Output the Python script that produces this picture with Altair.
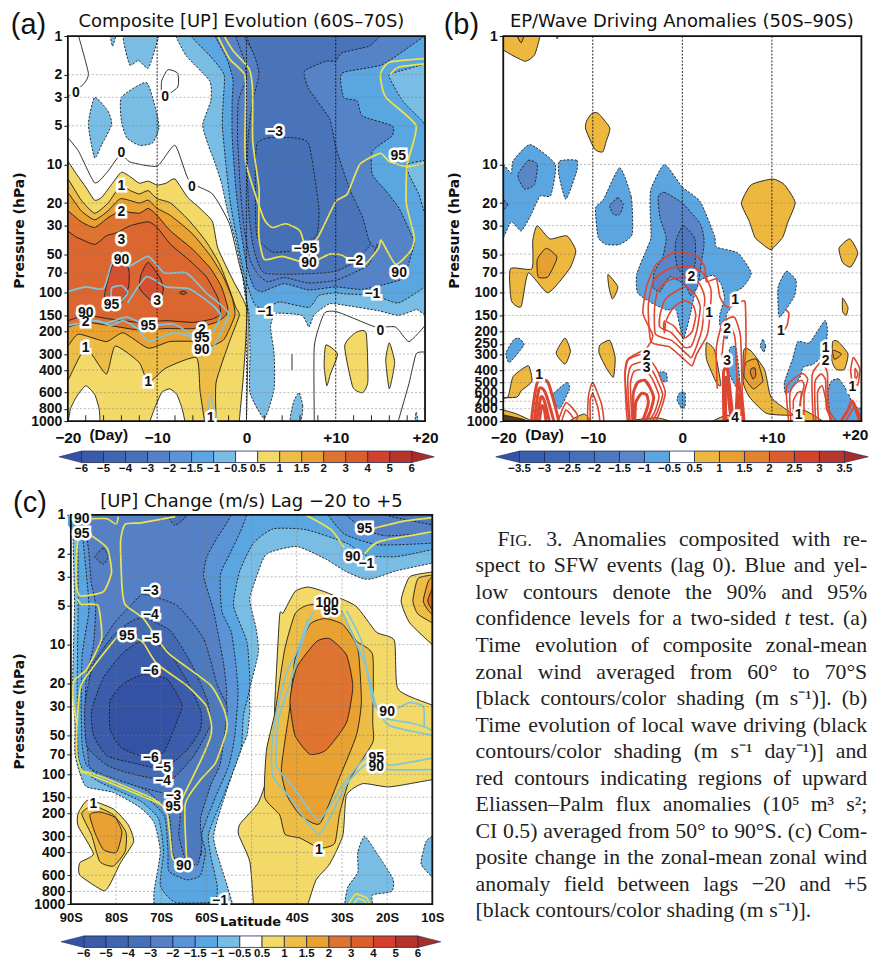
import altair as alt
import pandas as pd

# ------------------------------ colours ------------------------------
LEVEL_COLORS = ["#3552A5", "#3B5AA9", "#4066B0", "#4571B6", "#5580C6", "#5A94D6", "#5AA6E0", "#79BDE4", "#FFFFFF",
                "#F2D968", "#EDBD45", "#E9A131", "#DF7430", "#DB5F2D", "#D4412B", "#B5352A", "#A82C27"]
B_COLORS = ["#3552A5", "#3C5FAD", "#4167B2", "#4570B7", "#4D79BE", "#5A85C8", "#5BA6E0", "#FFFFFF",
            "#EEB83E", "#E8A030", "#E4832E", "#DC5C2C", "#D4432A", "#B8372A", "#A82C27"]
AC_TICKS = ["−6", "−5", "−4", "−3", "−2", "−1.5", "−1", "−0.5", "0.5", "1", "1.5", "2", "3", "4", "5", "6"]
B_TICKS = ["−3.5", "−3", "−2.5", "−2", "−1.5", "−1", "−0.5", "0.5", "1", "1.5", "2", "2.5", "3", "3.5"]
P_AC = [1, 2, 3, 5, 10, 20, 30, 50, 70, 100, 150, 200, 300, 400, 600, 800, 1000]
P_B = [1, 10, 20, 30, 50, 70, 100, 150, 200, 250, 300, 400, 500, 600, 700, 800, 1000]
LAT_LABELS = [-90, -80, -70, -60, -40, -30, -20, -10]
LAT_GRID = [-80, -70, -60, -50, -40, -30, -20]
DAY_LABELS = [-20, -10, 0, 10, 20]
DAY_LABELS_B = [-20, -10, 0, 10]
DAY_TICKS = [-18, -16, -14, -12, -8, -6, -4, -2, 2, 4, 6, 8, 12, 14, 16, 18]

# ------------------------------ panel (a): day, hPa ------------------------------
A_NEG05 = [(-7.9,0.8),(-7.9,1),(-6.7,1.44),(-4.1,2.25),(-4,3.2),(-4.9,4.9),(-4.3,7),(-3.6,9.4),(-2.8,14),(-2,25),(-1.2,40),(-0.5,70),(-0.1,110),(0.3,150),(0.4,300),(0.4,600),(2,950),(3.1,560),(3.1,300),(2.7,185),(3.3,145),(6.2,150),(7,185),(7.6,148),(9.3,122),(11,125),(14.8,138),(17,150),(19,135),(21,118),(21,0.8)]
A_NEG10 = [(-6.2,0.8),(-6.2,1),(-4,1.45),(-2.5,2),(-2.6,3.2),(-2.7,5),(-2.3,10),(-1.8,20),(-1,40),(-0.3,70),(0.6,110),(1,125),(2,135),(3.7,118),(7,130),(8.1,105),(10,100),(11,102),(14.4,105),(17,120),(20,90),(21,80),(21,0.8)]
A_HOLE1 = [(21,1.55),(20,1.65),(16.3,1.95),(16,2.1),(17.5,3.2),(19.7,4.6),(20,5),(21,5.2)]
A_HOLE2 = [(21,9.5),(20,9.3),(18,10),(18.2,12),(19.3,17),(20,24),(21,25)]
A_NEG15 = [(-3.5,0.8),(-3.5,1),(-2.2,1.5),(-1.5,2.2),(-1.6,3.2),(-1.6,6),(-1.2,15),(-0.7,30),(0,60),(0.8,90),(1.8,98),(4.2,85),(7,95),(10,90),(13,94),(17.1,80),(17.8,70),(18.8,42),(18.6,37),(17.1,22),(15.6,16),(14.1,12),(14.1,7.9),(16.3,6),(16.3,5),(13,4.2),(12.4,3.2),(10.9,3),(10.7,1.95),(15.2,1.67),(19.7,1.03),(21,0.9),(21,0.8)]
A_NEG20 = [(-1.2,0.8),(-1.2,1),(-0.3,1.5),(0,2.1),(-0.9,3.2),(-1,6),(-0.7,15),(-0.3,30),(0.4,55),(1.3,72),(2.4,82),(4.2,76),(7,84),(10,80),(12,70),(13.7,60),(14.6,42),(13.7,39)]
A_NEG25 = [(0,0.8),(0,1),(1,1.5),(1.4,2),(0.7,3.2),(0.2,6),(0.1,12),(0.3,25),(0.8,45),(2,70),(7,71),(10,68),(12.2,57),(13.9,42),(13.7,39),(13,25.7),(11.5,15.2),(10,7.3),(9.3,4.4),(7,2.6),(6.5,1.88),(8.9,1.57),(10,1.57),(10.7,1.35),(13.7,1.2),(14.9,1),(15,0.8)]
A_NEG30 = [(1.2,6.8),(2.5,6.2),(5.2,6.2),(7,7),(8.1,21.6),(7.9,35),(6.6,42),(5.1,47),(2.9,48),(1.2,37),(1,20),(1,10)]
A_BLUE_B1 = [(-15.3,0.9),(-15,1.2),(-14.5,0.9)]
A_BLUE_B2 = [(-13.8,0.9),(-13.1,1.67),(-12.1,1.55),(-11,1.78),(-10.1,1.17),(-9.9,0.9)]
A_BLUE_B3 = [(-17,3),(-15.5,3.85),(-15.1,4.9),(-16.2,7),(-17,8.9),(-17.7,4.9)]
A_BLUE_B4 = [(-14,3),(-11.2,2.3),(-10.1,3.85),(-9.8,5.2),(-10.5,6.8),(-12,7.1),(-13.4,6.2),(-14,4.6)]
A_BLUE_B5 = [(5.9,600),(6.3,760),(6.1,980),(4.9,980),(5.3,700)]
A_BLUE_B6 = [(19,850),(19.2,980),(18.9,980)]
A_POS05 = [(-21,9),(-20,9.5),(-19,12),(-18,15),(-17,19),(-16.2,18),(-15,14),(-14,11.5),(-13,12.5),(-12,14),(-11,13.5),(-10,14.5),(-9,14),(-8,13),(-6.6,18),(-5.2,22),(-3.8,28),(-3.2,45),(-1.5,80),(0,130),(-0.1,250),(-0.4,500),(-0.8,1000),(-0.8,1150),(-21,1150)]
A_WHITE1 = [(-21,1100),(-20,1000),(-19.7,800),(-19,640),(-18,530),(-17,620),(-16.5,800),(-16.4,1000),(-16.4,1100)]
A_WHITE2 = [(-10.9,1100),(-10.8,1000),(-10.3,800),(-9.5,600),(-8.6,560),(-7.8,620),(-7.2,800),(-6.9,1000),(-6.9,1100)]
A_POS10 = [(-21,12.5),(-20,13),(-18.5,19),(-17,24),(-15.5,20),(-14.1,14.7),(-13,16),(-12,17),(-11,16),(-10,18.5),(-8.5,20),(-6.5,27),(-4.5,40),(-3,60),(-2,90),(-1.2,130),(-0.8,150),(-1.9,240),(-3.4,500),(-3.4,1000),(-3.4,1100),(-4.7,1100),(-4.7,1000),(-5.2,580),(-5.6,320),(-9,385),(-11,500),(-12,350),(-14.7,260),(-15.7,430),(-18,270),(-20,480),(-21,550)]
A_POS15 = [(-21,16),(-20,16.6),(-18.5,23),(-17,27),(-15.5,23),(-14.1,18.5),(-12,20),(-11,19),(-10,22),(-8.5,25),(-6,35),(-4,52),(-2.6,75),(-1.6,110),(-1.3,150),(-2.5,230),(-4,260),(-5.6,240),(-8.6,240),(-11,270),(-13.8,205),(-15.7,240),(-18.8,210),(-20,260),(-21,290)]
A_POS20 = [(-21,22),(-20,23),(-18.5,28),(-17,31),(-15.5,26),(-14.1,23.3),(-12,24),(-11,22),(-10,25),(-8.5,33),(-6,46),(-4,65),(-2.8,90),(-2.1,130),(-2.3,150),(-3.4,170),(-6,190),(-9,190),(-12,195),(-15.3,180),(-18,170),(-20,185),(-21,190)]
A_POS30 = [(-21,33),(-19,37),(-17,42),(-15.7,36),(-14.5,34),(-13,30),(-11,28),(-10,31),(-8.5,42),(-6.5,55),(-4.5,75),(-3.2,110),(-2.9,145),(-3.8,160),(-6,170),(-9,165),(-12,170),(-15.3,160),(-18,150),(-20,165),(-21,170)]
A_POS40A = [(-15.9,105),(-15.3,70),(-14.5,52),(-13.2,65),(-13.2,90),(-14,120),(-15.3,125)]
A_POS40B = [(-12,90),(-11.8,72),(-11,58),(-9.7,76),(-9.3,95),(-10,125),(-11.6,100)]
A_POS40C = [(-7.5,100),(-7.1,97),(-6.7,100),(-7.1,103)]
A_YEL1 = [(8.9,255),(10.2,300),(9.4,430),(9,530),(8.7,370)]
A_YEL2 = [(12.2,205),(13.4,205),(13.6,490),(13,600),(11.9,540),(11,260)]
A_YEL3 = [(16,245),(16.6,350),(16,560),(15.6,335)]
A_ZERO1 = [(-18.8,1),(-17.7,1.95),(-18.2,2.35),(-19.3,2.7),(-20,3)]
A_ZERO2 = [(-20,6.2),(-18.8,7.9),(-17,13.9),(-15.6,11.5),(-14.1,8.4),(-13,9.6),(-10,10.3),(-8,7.1),(-6.4,13.5),(-3.8,17),(-1.9,29),(-0.8,60),(-0.2,85),(0.1,130),(0.2,170),(0.1,500),(0,1000)]
A_ZERO3 = [(-9.5,2.25),(-8.8,1.83),(-7.7,1.95),(-7.7,2.5),(-9.4,3)]
A_ZERO4 = [(7.6,1000),(7.6,260),(8.7,145),(10,140),(11.9,157),(14.5,185),(16.7,185),(18.2,240),(20,180)]
A_ZERO5 = [(20,290),(19,300),(18.2,510),(17,1000)]
A_ZERO6 = [(5.1,300),(5.1,400)]
A_B90A = [(-20,98),(-18,90),(-16,93),(-15,58),(-13.1,62),(-11,52),(-9.2,70),(-6.7,70),(-4.5,100),(-2,145),(-3.4,240),(-4,280)]
A_B90B = [(-20,180),(-16.8,165),(-15.2,180),(-13.8,165),(-12,195),(-11,240),(-8.2,205),(-5.6,225)]
A_B95A = [(-15.1,125),(-15.1,92),(-14,88),(-13.3,100),(-14.4,125)]
A_B95B = [(-13.3,120),(-11.2,75),(-9,90),(-6.4,93),(-3.8,125),(-2.9,150),(-3.6,195),(-4.2,215)]
A_B95C = [(-17.8,160),(-15.7,172),(-13.4,155),(-11,180),(-8.2,175),(-6,215)]
A_B95D = [(-4.5,1000),(-4,640),(-3.3,1000)]
A_Y95A = [(-3.2,1),(-1.9,1.5),(-0.2,2),(-0.1,3.2),(-0.1,9.4),(1.9,26),(2.9,31),(4.4,29),(6,33),(6.6,46)]
A_Y95B = [(6.6,46),(8,37),(10,19.5),(11.3,17),(12.7,10),(15,8.2),(16,9.5),(18,10.4),(20,9.7)]
A_Y90A = [(-2.5,1),(-1.5,1.3),(0.3,1.8),(0.7,2.7),(0.7,6.6),(1.4,15),(1.4,22),(1.4,37),(2,55),(4,52),(7,59),(9.3,50),(10.7,51),(13,62),(14.8,45),(15.1,39),(16.7,60),(18.4,47),(18.8,37),(17.9,20),(18,10),(19,5),(15.6,3),(15,2),(16,1.6),(20,1.5)]
A_Y90B = [(16.1,2),(17,1.75),(20,1.65)]
A_LABELS = [("0",-19.1,2.8),("0",-9.1,3),("0",-14,8.2),("0",-6.1,15),("0",15,200),("1",-14,14.7),("2",-14,23.3),("3",-14,39),("90",-14,56),("3",-10,115),("95",-15.1,125),("90",-18,145),("2",-18,170),("95",-11,180),("2",-5,195),("95",-5,225),("90",-5,280),("1",-18,270),("1",-11,500),("1",-4,950),("−3",3.2,5.6),("−95",6.6,46),("90",7,59),("−2",12.2,57),("90",17.1,70),("95",17,8.6),("−1",14.1,102),("−1",2.1,140)]

# ------------------------------ panel (b): day, hPa ------------------------------
B_Y1 = [(-21,1),(-20,1.28),(-17.6,1.57),(-16.5,1.4),(-15.9,1),(-15.9,0.8),(-21,0.8)]
B_Y1I = [(-18.7,0.9),(-18,1.13),(-17.6,0.9)]
B_Y2 = [(-14,0.9),(-14,1.05),(-13.5,0.9)]
B_Y3 = [(-10.1,4),(-9.4,4),(-8.1,5.2),(-8.5,6.6),(-8.9,8),(-9.8,7.6),(-10.8,5.3),(-10.7,4.6)]
B_Y4 = [(6.6,20),(7.7,14.4),(10.1,13),(11.4,14.4),(12.6,19.8),(11.8,28),(11.2,37),(9.9,46),(8.8,41),(8.1,37),(7.5,28)]
B_Y5 = [(-16.2,30),(-14.8,38),(-12.9,36),(-11.9,47),(-12.6,65),(-15,100),(-17.2,70),(-18,128),(-19.1,115),(-19.2,65),(-16.8,65),(-16.7,39)]
B_Y5I = [(-16.2,55),(-15.2,45),(-14,53),(-15,75),(-16.1,75)]
B_Y6 = [(-8.3,72),(-7.2,90),(-7.8,112),(-8.2,90)]
B_Y7 = [(-13.1,225),(-12.5,285),(-13.1,360),(-14.1,295)]
B_Y8 = [(-9.2,255),(-8.1,235),(-7.5,320),(-7.7,455),(-8.5,385),(-9.3,295)]
B_Y9 = [(-21,650),(-19.5,650),(-18.9,450),(-17.2,370),(-16.8,490),(-18,580),(-18.5,650),(-21,660)]
B_Y10 = [(17.5,45),(18.7,38),(19.6,49),(18.8,63),(17.9,58)]
B_Y11 = [(17.9,110),(18.5,130),(18.3,150),(17.9,140)]
B_Y12 = [(16.8,240),(17.4,240),(18.5,300),(18.1,395),(17.2,395),(16.7,340)]
B_Y12I = [(16.8,280),(17.8,300),(17,330)]
B_Y13 = [(2.7,245),(3.6,280),(4.3,520),(3.8,500),(2.7,330)]
B_Y14 = [(7,270),(7.7,285),(9.2,400),(9.9,650),(12,850),(12.3,900),(9.4,870),(7.5,650),(6.8,500),(6.8,300)]
B_Y14I = [(7.1,350),(8.3,330),(9,480),(8.6,520),(7.9,560),(6.9,450)]
B_Y14J = [(7.7,390),(8.1,385),(8.2,440),(7.9,470),(7.6,420)]
B_Y15 = [(-12.6,1000),(-11,880),(-10.3,980),(-11,1050)]
B_Y16 = [(12.7,1050),(13.5,820),(16,1050)]
B_Y17 = [(-21,800),(-18.5,880),(-16.5,1050),(-21,1100)]
B_Y18 = [(-8,1050),(-3,940),(-1,1050)]
B_Y19 = [(3,1050),(5,900),(7,1050)]
B_DK1 = [(-21,880),(-18,960),(-16,1100),(-21,1100)]
B_DK2 = [(3.5,1100),(5,970),(6.5,1100)]
B_DK3 = [(-7,1100),(-3,990),(-1,1100)]
B_L1 = [(-21,10),(-20,10),(-19.1,11.7),(-18.9,9.4),(-17,7),(-14.2,10),(-14.7,17.5),(-15.9,17.7),(-17,25.5),(-18,33),(-19.1,28),(-20,37),(-21,40)]
B_L1I = [(-18.3,11.7),(-17.2,9.3),(-16.2,10),(-16.5,14.3),(-17.6,15.6),(-18.3,13)]
B_L1J = [(-20.5,18),(-19.5,20.5),(-20.5,24.5)]
B_L2 = [(-13.7,9.4),(-11.8,9.3),(-11.8,11.3),(-13,18.7),(-13.8,12)]
B_L3 = [(-7,10.6),(-5.7,18),(-5.6,35),(-7,42),(-8.5,42),(-9.4,37),(-9.7,22),(-8.8,18.7)]
B_L3I = [(-8.1,21),(-7.2,18.2),(-6.6,20.5),(-7,24.5),(-7.7,24.5)]
B_L4 = [(-2,10),(0,15),(2,19.5),(3.6,36),(3.8,44),(6.2,49),(7.7,70),(6.8,90),(5.7,101),(5.5,128),(4.9,148),(5.2,200),(4.9,230),(4.2,180),(4.2,146),(4.7,110),(4.3,85),(3.4,73),(1.9,81),(1.4,100),(1,136),(0.1,230),(-0.7,136),(-1.8,136),(-3.6,118),(-5,100),(-5.1,72),(-4,46),(-3.5,37),(-3.6,22),(-3.5,15.5)]
B_L4I = [(-2.7,18),(-2,16.5),(0,20),(2,29),(2.4,37),(2.4,44),(2.1,59),(1.7,90),(0.9,105),(0.4,88),(-1.4,75),(-2.5,98),(-3.3,90),(-3.1,68),(-2.2,53),(-1.8,37),(-2.5,26)]
B_L4J = [(-0.7,39),(0.1,30),(1.4,38),(1.4,60),(0.6,75),(-0.5,65),(-0.8,50)]
B_L5 = [(10.7,90),(11.6,68),(12.7,80),(12.5,107),(10.9,155),(10.7,128)]
B_L6 = [(-18.9,235),(-18.3,225),(-17.7,255),(-19.3,350),(-19.7,295)]
B_L7 = [(-14.4,610),(-12.9,500),(-12.6,560),(-13.7,800),(-14.4,680)]
B_L8 = [(-2.5,415),(-1.8,420),(-1.7,490),(-2.4,480)]
B_L9 = [(-0.3,600),(0.3,600),(0.3,770),(-0.1,790),(-0.6,680)]
B_L10 = [(5.3,270),(6,270),(6.4,480),(6,540),(5.1,400)]
B_L11 = [(9,230),(9.3,260),(9.1,290),(8.7,260)]
B_L13 = [(12.9,240),(14.2,245),(15.9,165),(16.2,195),(15.9,295),(14.6,360),(13.5,380),(13.1,460),(11.6,620),(11.4,500),(12.3,330)]
B_L14 = [(16.6,490),(17.5,470),(18.5,600),(19.2,770),(21,830),(21,1100),(16.8,1100),(16.3,600)]
B_R1 = [(-3.8,125),(-3.2,80),(-1.5,65),(0.8,62),(2.3,70),(3.2,95),(3,170),(2.7,220),(1.6,300),(1.1,370),(0.4,340),(-1.4,265),(-3.5,240)]
B_R2 = [(-3.1,130),(-2.7,95),(-1.5,80),(0.5,75),(1.9,85),(2.5,110),(2.2,190),(1.6,260),(1,320),(0.4,295),(-1.2,235),(-3,210)]
B_R3 = [(-2.5,150),(-2,115),(-1,100),(0.4,90),(1.5,105),(2,130),(1.6,200),(1,260),(0.2,265),(-1.2,205),(-2.5,185)]
B_R4 = [(-1.8,165),(-1,130),(0.2,115),(1.2,125),(1.5,150),(1.1,200),(0.2,225),(-1,180)]
B_R5 = [(-2,165),(-1.9,180),(-2,205),(-2.1,180)]
B_R6 = [(-5.9,1100),(-6.4,450),(-6.1,330),(-4,270),(-3.3,215),(-4.4,145),(-4,90),(-2.9,60),(-0.7,48),(1.6,52),(2.5,63),(2.7,82),(3.8,78),(4.2,108),(4.9,128),(5.9,125),(7,118),(7.1,270),(6.8,420)]
B_S1 = [(-16.8,1100),(-16.2,500),(-15,500),(-13.8,1100)]
B_S2 = [(-16.5,1100),(-16,560),(-15.3,600),(-14.3,1100)]
B_S3 = [(-16.3,1100),(-15.8,650),(-15.4,700),(-14.8,1100)]
B_S4 = [(-16,1100),(-15.7,760),(-15.4,820),(-15.2,1100)]
B_S5 = [(-14,1100),(-13,720),(-11.7,900),(-12.2,1100)]
B_S6 = [(-13.6,1100),(-13,820),(-12.2,950),(-12.6,1100)]
B_S7 = [(-10.5,1100),(-10.5,650),(-10,500),(-9,750),(-8.8,1100)]
B_S8 = [(-10.2,1100),(-10.3,700),(-10,610),(-9.4,800),(-9.2,1100)]
B_T1 = [(-6,1100),(-6.4,450),(-6,330),(-4.2,300),(-3,380),(-2.5,450),(-1.9,600),(-2.5,850),(-3.5,1100)]
B_T2 = [(-5.7,1100),(-6.1,480),(-5.7,370),(-4.3,345),(-3.3,410),(-2.8,480),(-2.2,620),(-2.8,850),(-3.8,1100)]
B_T3 = [(-5.5,1100),(-5.8,520),(-5.4,410),(-4.3,395),(-3.6,440),(-3.1,510),(-2.6,640),(-3.1,850),(-4.2,1100)]
B_T4 = [(-5.4,1100),(-5.5,620),(-5,500),(-4.2,480),(-3.6,550),(-3.2,660),(-3.6,850),(-4.5,1100)]
B_T5 = [(-5.3,1100),(-5.2,720),(-4.6,610),(-4,620),(-3.8,720),(-4.2,900),(-4.8,1100)]
B_U1 = [(3.9,560),(3.8,270),(4.5,170),(5.8,155),(6.5,220),(6.7,600),(7,1100),(6.4,1100),(6.1,500),(5.9,230),(5.4,185),(4.7,210),(4.4,330)]
B_U2 = [(4.7,1100),(4.6,420),(5,390),(5.3,560),(5.7,1100)]
B_U3 = [(4.9,1100),(4.8,480),(5.05,470),(5.2,700),(5.5,1100)]
B_U4 = [(6,1100),(6.2,480),(6.5,600),(6.8,1100)]
B_U5 = [(6.2,1100),(6.3,620),(6.6,1100)]
B_V1 = [(12,1100),(11.6,560),(12.2,480),(13.4,425),(14,470),(13.6,620),(13.5,1100)]
B_V2 = [(12.2,1100),(12,620),(12.5,520),(13.3,480),(13.6,530),(13.2,700),(13.2,1100)]
B_V3 = [(12.5,1100),(12.4,700),(12.9,600),(13.3,600),(13,850)]
B_W1 = [(14.8,1100),(14.5,440),(15.5,350),(16.2,420),(16.3,800),(17.5,1100)]
B_W2 = [(15,1100),(14.8,500),(15.5,430),(16,480),(16.1,800),(17,1100)]
B_W3 = [(15.3,1100),(15.1,600),(15.6,530),(15.9,620),(16.6,1100)]
B_W4 = [(17.5,1100),(18.5,820),(19,700),(20,1000),(20,1100)]
B_W5 = [(18,1100),(18.8,860),(19.2,790),(19.8,1100)]
B_X1 = [(19.1,320),(19.8,390),(19.6,520),(19,500),(18.8,400)]
B_X2 = [(19.3,390),(19.6,430),(19.3,480)]
B_X3 = [(11.5,135),(11.9,145),(11.7,180),(11.2,200),(11,200)]
B_LABELS = [("1",-16,440),("2",-4,310),("3",-4,385),("2",1,75),("1",5.9,113),("1",3,145),("2",5,190),("3",5,340),("4",5.9,940),("1",11,200),("1",16,270),("2",16,340),("1",19,540),("1",13,900)]

# ------------------------------ panel (c): latitude, hPa ------------------------------
C_NEG05 = [(-91,0.8),(-89.3,1.03),(-89.5,1.5),(-89.2,5),(-89.6,20),(-89.1,40),(-89.1,70),(-88,98),(-86.5,125),(-80.6,138),(-74.7,180),(-71.6,235),(-70.2,395),(-71.6,800),(-71.6,1000),(-71.6,1100),(-54.3,1100),(-54.3,980),(-55.4,720),(-58.4,310),(-56,150),(-52.4,65),(-51,50),(-50.4,33),(-50.4,22),(-48.5,11.5),(-49,7.5),(-50.4,4.5),(-48.9,3),(-46.7,2),(-40,1.75),(-33.5,2.2),(-29.4,2.7),(-25.4,3.1),(-23.2,3.1),(-18,2.7),(-10,2.35),(-9,2.3),(-9,0.8)]
C_NEG10 = [(-90,0.8),(-88.5,1.5),(-88.4,5.5),(-88.6,20),(-88.4,70),(-87.3,92),(-83.6,115),(-74.7,160),(-70.6,220),(-69.5,395),(-70.2,720),(-66.9,970),(-58.4,960),(-57.6,730),(-59,430),(-59.5,285),(-56,140),(-52.4,65),(-51.8,35),(-50.4,21),(-51,9.6),(-54,5),(-52.6,2.7),(-49.6,1.65),(-45.2,1.28),(-37.9,1.3),(-29,1.65),(-24.6,2.05),(-18,2.1),(-10,1.85),(-9,1.8),(-9,0.8)]
C_NEG15A = [(-88.5,0.8),(-88,1.02),(-87.3,1.6),(-86.5,3),(-86,5.5),(-87.5,12),(-87.7,30),(-87.5,60),(-86.5,85),(-83,105),(-74,145),(-69.3,210),(-68.5,395),(-68.3,560),(-64.3,650),(-61.3,600),(-60.2,395),(-61,285),(-58,150),(-55,85),(-53.7,50),(-53,24),(-53.5,14),(-54.5,8),(-56.6,5.5),(-56.9,2.9),(-54.8,2),(-52.5,1.35),(-51.1,1),(-51.1,0.8)]
C_NEG15B = [(-33.5,0.8),(-33.5,0.95),(-29.5,1.4),(-22,1.7),(-10,1.65),(-9,1.6),(-9,0.8)]
C_NEG20A = [(-87,0.8),(-87,1),(-86,2),(-85.5,3.3),(-84.5,5),(-85,10),(-86.7,20),(-86.7,50),(-85.5,80),(-80,105),(-73,135),(-68.3,205),(-67.5,395),(-66,530),(-63.5,540),(-61,400),(-62.5,285),(-61,190),(-59,115),(-57,70),(-56,50),(-55.5,24),(-56.2,14),(-58.4,5.5),(-60.6,3),(-59.9,2.1),(-57.6,1.5),(-54.7,1.03),(-54.7,0.8)]
C_NEG20B = [(-29,0.8),(-29,1),(-25.4,1.27),(-20.2,1.45),(-10,1.37),(-9,1.35),(-9,0.8)]
C_NEG30A = [(-73.9,4.1),(-66.5,5),(-60.6,9),(-57.6,20.5),(-55.4,30),(-56,50),(-57,85),(-59,120),(-61.3,220),(-61,350),(-62,500),(-64.7,440),(-66.1,295),(-65.8,205),(-67.3,148),(-75,125),(-83,100),(-86,85),(-86.3,40),(-85.5,14),(-80.6,7),(-76.5,4.9)]
C_NEG30B = [(-20.4,0.8),(-20.4,1),(-10,1.19),(-9,1.2),(-9,0.8)]
C_NEG30C = [(-68.7,0.9),(-68.7,1),(-67,1.2),(-64.7,1.05),(-64.7,0.9)]
C_NEG30D = [(-84.7,2.1),(-82.8,1.8),(-81.7,2.1),(-82.8,2.4)]
C_NEG40 = [(-73.9,6.2),(-68,7.8),(-63.6,13.5),(-59.9,26),(-59,40),(-59.5,45),(-62.8,72),(-68,110),(-76.1,100),(-82,85),(-86.5,60),(-86.9,29),(-85,14),(-80.6,8.5),(-76.9,6.7)]
C_NEG50 = [(-73.9,9.3),(-68.7,11),(-64.3,19),(-61.3,32),(-61.3,45),(-64.3,65),(-69.5,90),(-76,82),(-82,72),(-85,50),(-85.4,32),(-82.8,18),(-78.4,11.5)]
C_NEG60 = [(-73.9,17),(-68.7,18.5),(-65.4,29),(-66.5,39),(-69.5,68),(-73.9,73),(-79,62),(-81.3,45),(-81.3,27),(-78.4,20)]
C_BLUE1 = [(-25,300),(-22.4,400),(-18.7,640),(-19,800),(-23.2,850),(-23.2,1000),(-23.2,1100),(-29.4,1100),(-29.4,1000),(-28.7,740),(-26.5,570),(-26.5,400)]
C_BLUE2 = [(-9,295),(-10,300),(-11.4,330),(-12.5,490),(-10,620),(-9,640)]
C_POS05 = [(-43,5.7),(-40.4,3.9),(-37.5,3.6),(-33.5,3.95),(-26.9,5.05),(-22.4,8),(-18.4,9.3),(-17.6,22),(-10.3,29),(-9,30),(-9,112),(-10,110),(-19.5,125),(-25.4,118),(-29,145),(-29.8,295),(-32.7,490),(-35.7,650),(-37.5,1000),(-37.5,1100),(-49.6,1100),(-49.6,1000),(-50.4,470),(-52.9,290),(-52.5,240),(-48.5,165),(-46,90),(-44.9,37),(-44.9,30),(-43.8,6)]
C_POS10 = [(-37.9,5),(-33.3,4.8),(-30,5.6),(-26.9,9.3),(-23.2,12),(-23.2,39),(-23.2,57),(-28.3,110),(-30.5,200),(-31.6,340),(-34.9,370),(-39.3,310),(-42.6,290),(-43.8,205),(-47.1,150),(-46.7,65),(-44.8,33),(-42.7,11),(-40.4,5.8)]
C_POS15 = [(-33.8,6.3),(-29.8,7),(-26.5,10.7),(-25.7,27.5),(-26.8,50),(-30.5,105),(-34.9,240),(-39.3,205),(-42.2,145),(-43.4,90),(-41.5,30),(-40.4,13),(-37.1,7)]
C_POS20 = [(-32.7,9),(-29,12),(-27.6,21),(-29,40),(-33.5,65),(-37.1,70),(-40.4,50),(-41.5,27),(-40,15),(-35.7,9.5)]
C_POSR05 = [(-9,2.6),(-10,2.75),(-15,3),(-16.9,4.6),(-15,6.8),(-10,10),(-9,10.5)]
C_POSR10 = [(-9,2.85),(-10,2.9),(-13.2,3.1),(-14.3,4.6),(-13.2,5.8),(-10,6.8),(-9,7.2)]
C_POSR15 = [(-9,3),(-10.8,3.2),(-12,4.6),(-10.8,5.5),(-9,6)]
C_POSR20 = [(-9,3.5),(-10,3.7),(-11,4.6),(-10,5.4),(-9,5.6)]
C_POSL05 = [(-88.4,200),(-86.2,158),(-80.6,185),(-77.3,245),(-76.1,330),(-79,480),(-81.3,700),(-82.8,790),(-88,600),(-88,480),(-85,410),(-88.4,250)]
C_POSL10 = [(-87.6,200),(-85,175),(-80.6,205),(-77.8,280),(-78,395),(-80.6,510),(-83.6,470),(-85.4,295)]
C_POSL15 = [(-85.8,205),(-83.6,195),(-80.2,215),(-78.7,280),(-79.9,400),(-82.8,380),(-84.7,280)]
C_Y1 = [(-85.4,1.07),(-82,1.07),(-80,1.18),(-79.5,1.03)]
C_Y2 = [(-66.9,1.03),(-74.5,1.15),(-78,1.18),(-79,1.6),(-78.7,3.5),(-78,4.9),(-73.9,6.3),(-71,8.9),(-68,12),(-59.1,20.5),(-56.2,31),(-55.4,40),(-55.8,50),(-58,82),(-61.3,110),(-64.7,170),(-64.3,500)]
C_Y3 = [(-75.4,9),(-73.9,9.7),(-71,14),(-64.3,20.7),(-60.2,29),(-59,39),(-59,50),(-61,75),(-65.4,155)]
C_Y4 = [(-79.9,8.8),(-87.6,20),(-88.6,40),(-88.7,70),(-87.6,93),(-83.6,103),(-71.7,155),(-68.7,200),(-67.6,430),(-66.5,470)]
C_Y5 = [(-88,95),(-83.6,108),(-71,165),(-69,185)]
C_Y6 = [(-85.8,1.43),(-82,1.8),(-81,2.75),(-82.8,3.9),(-88,4.2),(-88.9,3.1),(-88.4,1.56)]
C_Y7 = [(-88.6,4.4),(-87.6,4.9),(-84,5),(-83.2,9),(-86.5,15.5),(-89.3,19),(-89.5,26),(-88.8,40)]
C_Y8 = [(-38,1),(-32.4,1.3),(-29.5,1.8)]
C_Y9 = [(-25,2),(-21.7,1.6),(-10,1.35)]
C_Y10 = [(-23,1.27),(-16.5,1.12),(-10,1.05)]
C_Y11 = [(-28.5,1000),(-27,840),(-24.5,900),(-23.8,1050)]
C_Y12 = [(-27.8,1050),(-26.5,910),(-25,950),(-24.5,1050)]
C_B1 = [(-37.5,6.3),(-39.7,10.8),(-42.3,16.5),(-44.5,34),(-45.6,65),(-45.2,105),(-41.2,155),(-35,290),(-29,120),(-24.6,84),(-19.5,92),(-10,92)]
C_B2 = [(-36.4,5.6),(-38.9,9.7),(-41.5,20),(-44,37),(-44.5,85),(-40.4,130),(-35.1,225),(-29.4,115),(-24.6,75),(-19.5,85),(-10,75)]
C_B3 = [(-30.1,5.4),(-24.6,15),(-22.4,30),(-19.5,42),(-10,50)]
C_B4 = [(-29,5.5),(-25.7,9.4),(-23.2,27),(-20.2,37),(-15,40),(-11.8,43),(-10,46)]
C_B5 = [(-18,31.5),(-15,28),(-12,30),(-11.8,43)]
C_LABELS = [("90",-87.6,1.07),("95",-87.6,1.4),("−3",-72.3,3.85),("−4",-72.3,5.9),("−5",-72.1,9),("95",-77.6,8.6),("−6",-72.3,16),("−6",-72.3,75),("−5",-69.6,90),("−4",-69.6,112),("−3",-67.3,148),("95",-67.4,180),("90",-65,510),("−1",-57,950),("1",-85,170),("95",-25,1.28),("90",-27.6,2.1),("−1",-24.6,2.4),("100",-33.3,4.8),("95",-32.5,5.5),("90",-20,33),("90",-22.4,88),("95",-22.4,75),("1",-35.1,380)]

# ------------------------------ caption ------------------------------
CAPTION = ["Anomalies composited with re-", "spect to SFW events (lag 0). Blue and yel-", "low contours denote the 90% and 95%",
           "confidence levels for a two-sided t test. (a)", "Time evolution of composite zonal-mean", "zonal wind averaged from 60° to 70°S",
           "[black contours/color shading (m s⁻¹)]. (b)", "Time evolution of local wave driving (black",
           "contours/color shading (m s⁻¹ day⁻¹)] and", "red contours indicating regions of upward",
           "Eliassen–Palm flux anomalies (10⁵ m³ s²;", "CI 0.5) averaged from 50° to 90°S. (c) Com-",
           "posite change in the zonal-mean zonal wind", "anomaly field between lags −20 and +5",
           "[black contours/color shading (m s⁻¹)]."]
TIMES_EM = dict(zip("abcdefghijklmnopqrstuvwxyz", [444,500,444,500,444,333,500,500,278,278,500,278,778,500,500,500,500,333,389,278,500,500,722,500,500,444]))
TIMES_EM.update(dict(zip("ABCDEFGHIJKLMNOPQRSTUVWXYZ", [722,667,667,722,611,556,722,722,333,389,722,611,889,722,722,556,722,667,556,611,722,722,944,722,722,611])))
TIMES_EM.update({".": 250, ",": 250, "-": 333, "(": 333, ")": 333, "[": 333, "]": 333, "/": 278, "%": 833, ";": 278, "°": 400,
                 "−": 564, "–": 500, "+": 564, "⁻": 300, "¹": 300, "⁵": 300, "³": 300, "²": 300})

SANS = "Liberation Sans"
SERIF = "Liberation Serif"
TITLE_FONT = "DejaVu Sans"
BLACK = "#1a1a1a"
RED = "#E0452F"
YEL = "#EDE24E"
CYAN = "#80C6DA"
DASH = [2.2, 1.5]
SIG_W = 1.7
AXES = {}


def frame_of(points):
    return pd.DataFrame([{"i": i, "x": x, "p": p} for i, (x, p) in enumerate(points)])


def ex(xs, field="x:Q"):
    return alt.X(field, scale=xs, axis=AXES.get(id(xs)))


def ey(ys, field="p:Q"):
    return alt.Y(field, scale=ys, axis=AXES.get(id(ys)))


def shape(points, xs, ys, fill=None, dash=False, stroke=BLACK, width=0.9, closed=True, tension=0.45):
    opts = dict(interpolate="cardinal-closed" if closed else "cardinal", tension=tension, clip=True,
                stroke=stroke, strokeWidth=width)
    if fill:
        opts["fill"] = fill
    if dash:
        opts["strokeDash"] = DASH
    return alt.Chart(frame_of(points)).mark_line(**opts).encode(x=ex(xs), y=ey(ys), order="i:Q")


def labels_layer(rows, xs, ys):
    df = pd.DataFrame(rows, columns=["t", "x", "p"])
    enc = dict(x=ex(xs), y=ey(ys), text="t:N")
    halo = alt.Chart(df).mark_text(font=SANS, fontSize=14, fontWeight="bold", stroke="white", strokeWidth=5,
                                   strokeJoin="miter", fill="white").encode(**enc)
    txt = alt.Chart(df).mark_text(font=SANS, fontSize=14, fontWeight="bold", fill="#111").encode(**enc)
    return [halo, txt]


def make_axes(xs, ys, levels, xvals, expr, left_offset=0, xsize=15.5, xpad=9):
    AXES[id(xs)] = alt.Axis(values=xvals, labelExpr=expr, domain=False, ticks=False, grid=False, title=None,
                            labelFont=SANS, labelFontWeight="bold", labelFontSize=xsize, labelColor="#111",
                            labelPadding=xpad, labelOverlap=False, labelFlush=False)
    AXES[id(ys)] = alt.Axis(values=levels, format="d", domain=False, tickColor="#111", tickSize=4, grid=False,
                            title=None, labelFont=SANS, labelFontWeight="bold", labelFontSize=14, labelColor="#111",
                            labelPadding=2, labelOverlap=False, offset=left_offset)


def furniture(xs, ys, levels, minor, vertical, grid_x=None, xdom=None):
    layers = []
    layers.append(alt.Chart(pd.DataFrame({"p": levels})).mark_rule(color="#7a7a7a", strokeWidth=0.7, strokeDash=[2, 2],
                                                                   opacity=0.75).encode(y=ey(ys)))
    if grid_x:
        layers.append(alt.Chart(pd.DataFrame({"x": grid_x})).mark_rule(
            color="#7a7a7a", strokeWidth=0.7, strokeDash=[2, 2], opacity=0.75).encode(x=ex(xs)))
    if vertical:
        layers.append(alt.Chart(pd.DataFrame({"x": vertical})).mark_rule(
            color="#111", strokeWidth=0.9, strokeDash=[2, 1.5]).encode(x=ex(xs)))
    if minor:
        layers.append(alt.Chart(pd.DataFrame({"x": minor, "a": 1000, "b": 900})).mark_rule(
            color="#111", strokeWidth=0.9).encode(x=ex(xs), y=ey(ys, "a:Q"), y2="b:Q"))
    box = pd.DataFrame({"x": [xdom[0]], "x2": [xdom[1]], "p": [1], "p2": [1000]})
    layers.append(alt.Chart(box).mark_rect(fillOpacity=0, stroke="#111", strokeWidth=1.8).encode(
        x=ex(xs), x2="x2:Q", y=ey(ys), y2="p2:Q"))
    return layers


def outside_text(text, x, y, size, font=SANS, weight="normal", angle=0, align="center"):
    return alt.Chart(pd.DataFrame({"t": [text]})).mark_text(font=font, fontSize=size, fontWeight=weight, angle=angle,
                                                            align=align, baseline="alphabetic", color="#111").encode(
        x=alt.value(x), y=alt.value(y), text="t:N")


def colorbar(colors, ticks, width, height, start, end, yoff=0, tip=1.02):
    n = len(ticks) - 1
    sx = alt.Scale(domain=[0, n], range=[start, end])
    sy = alt.Scale(domain=[0, 1], range=[11.5 + yoff, yoff])
    cells = pd.DataFrame({"a": list(range(n)), "b": list(range(1, n + 1)), "c": colors[1:n + 1], "u": 0, "v": 1})
    rects = alt.Chart(cells).mark_rect(stroke="#1c2a55", strokeWidth=0.8).encode(
        x=alt.X("a:Q", scale=sx, axis=None), x2="b:Q", y=alt.Y("u:Q", scale=sy, axis=None), y2="v:Q",
        fill=alt.Fill("c:N", scale=None))
    def tri(points, col):
        return alt.Chart(frame_of(points)).mark_line(interpolate="linear-closed", fill=col, stroke="#1c2a55",
                                                     strokeWidth=0.6).encode(
            x=alt.X("x:Q", scale=sx, axis=None), y=alt.Y("p:Q", scale=sy, axis=None), order="i:Q")
    tip_l = tri([(0, 0), (0, 1), (-tip, 0.5)], colors[0])
    tip_r = tri([(n, 0), (n, 1), (n + tip, 0.5)], colors[-1])
    lab = pd.DataFrame({"t": ticks, "a": list(range(n + 1))})
    text = alt.Chart(lab).mark_text(font=SANS, fontWeight="bold", fontSize=11.5, color="#111", baseline="alphabetic").encode(
        x=alt.X("a:Q", scale=sx, axis=None), y=alt.value(21 + yoff), text="t:N")
    return alt.layer(rects, tip_l, tip_r, text).properties(width=width, height=height)


DAY_EXPR = "datum.value < 0 ? '−' + abs(datum.value) : (datum.value > 0 ? '+' + datum.value : '0')"

# ------------------------------ panel a ------------------------------
XA = alt.Scale(domain=[-20, 20])
YA = alt.Scale(type="log", domain=[1, 1000], reverse=True)
make_axes(XA, YA, P_AC, DAY_LABELS, DAY_EXPR)
c = LEVEL_COLORS
a_layers = []
for pts, col, dash in [
    (A_BLUE_B1, c[7], True), (A_BLUE_B2, c[7], True), (A_BLUE_B3, c[7], True), (A_BLUE_B4, c[7], True),
    (A_BLUE_B5, c[7], True), (A_BLUE_B6, c[7], True),
    (A_NEG05, c[7], True), (A_NEG10, c[6], True), (A_HOLE1, c[7], True), (A_HOLE2, c[7], True),
    (A_NEG15, "#5583C8", True), (A_NEG20, "#5580C6", True), (A_NEG25, "#4A74BA", True), (A_NEG30, "#4570B6", True),
    (A_POS05, c[9], False), (A_WHITE1, "#FFFFFF", False), (A_WHITE2, "#FFFFFF", False),
    (A_POS10, c[10], False), (A_POS15, c[11], False), (A_POS20, "#DF7430", False), (A_POS30, "#DB6630", False),
    (A_POS40A, "#D5502E", False), (A_POS40B, "#D5502E", False), (A_POS40C, "#D5502E", False),
    (A_YEL1, c[9], False), (A_YEL2, c[9], False), (A_YEL3, c[9], False),
]:
    a_layers.append(shape(pts, XA, YA, fill=col, dash=dash))
for pts in [A_ZERO1, A_ZERO2, A_ZERO4, A_ZERO5, A_ZERO6]:
    a_layers.append(shape(pts, XA, YA, closed=False))
a_layers.append(shape(A_ZERO3, XA, YA))
for pts in [A_B90A, A_B90B, A_B95A, A_B95B, A_B95C, A_B95D]:
    a_layers.append(shape(pts, XA, YA, stroke=CYAN, width=SIG_W, closed=False))
for pts in [A_Y95A, A_Y95B, A_Y90A, A_Y90B]:
    a_layers.append(shape(pts, XA, YA, stroke=YEL, width=SIG_W, closed=False))
a_layers += furniture(XA, YA, P_AC, DAY_TICKS, [-10, 0, 10], xdom=[-20, 20])
a_layers += labels_layer(A_LABELS, XA, YA)
a_layers += [outside_text("(a)", -39.5, -2, 29), outside_text("Composite [UP] Evolution (60S–70S)", 174, -9, 18, TITLE_FONT),
             outside_text("(Day)", 41, 405, 15.5, SANS, "bold"),
             outside_text("Pressure (hPa)", -44, 195, 14, TITLE_FONT, "bold", 270)]
panel_a = alt.layer(*a_layers).properties(width=358, height=386)

# ------------------------------ panel b ------------------------------
XB = alt.Scale(domain=[-20, 20])
YB = alt.Scale(type="log", domain=[1, 1000], reverse=True)
make_axes(XB, YB, P_B, DAY_LABELS_B, DAY_EXPR)
LB, MB, DB, YLW, ORG, DKO = B_COLORS[6], B_COLORS[5], B_COLORS[4], B_COLORS[8], B_COLORS[9], B_COLORS[10]
b_layers = []
for pts in [B_L1, B_L2, B_L3, B_L4, B_L5, B_L6, B_L7, B_L8, B_L9, B_L10, B_L11, B_L13, B_L14]:
    b_layers.append(shape(pts, XB, YB, fill=LB, dash=True))
for pts in [B_L1I, B_L1J, B_L3I, B_L4I]:
    b_layers.append(shape(pts, XB, YB, fill=MB, dash=True))
b_layers.append(shape(B_L4J, XB, YB, fill=DB, dash=True))
for pts in [B_Y1, B_Y2, B_Y3, B_Y4, B_Y5, B_Y6, B_Y7, B_Y8, B_Y9, B_Y10, B_Y11, B_Y12, B_Y13, B_Y14, B_Y15, B_Y16, B_Y17, B_Y18, B_Y19]:
    b_layers.append(shape(pts, XB, YB, fill=YLW))
for pts in [B_Y1I, B_Y5I, B_Y12I, B_Y14I]:
    b_layers.append(shape(pts, XB, YB, fill=ORG))
b_layers.append(shape(B_Y14J, XB, YB, fill=DKO))
for pts in [B_DK1, B_DK2, B_DK3]:
    b_layers.append(shape(pts, XB, YB, fill="#5a3d20"))
for pts in [B_R1, B_R2, B_R3, B_R4, B_R5, B_S5, B_S6, B_S7, B_S8, B_T1, B_T2, B_T3,
            B_V1, B_V2, B_V3, B_W1, B_W2, B_W3, B_W5, B_X1, B_X2]:
    b_layers.append(shape(pts, XB, YB, stroke=RED, width=1.6))
for pts in [B_S1, B_S2, B_S3, B_S4, B_T4, B_T5, B_U2, B_U3, B_U4, B_U5, B_W4]:
    b_layers.append(shape(pts, XB, YB, stroke=RED, width=3))
for pts in [B_R6, B_U1, B_X3]:
    b_layers.append(shape(pts, XB, YB, stroke=RED, width=1.6, closed=False))
b_layers += furniture(XB, YB, P_B, None, [-10, 0, 10], xdom=[-20, 20])
b_layers += labels_layer(B_LABELS, XB, YB)
b_layers += [outside_text("(b)", -42, -2, 29), outside_text("EP/Wave Driving Anomalies (50S–90S)", 179, -9, 18, TITLE_FONT),
             outside_text("(Day)", 41.5, 405, 15.5, SANS, "bold"),
             outside_text("+20", 366, 405, 15.5, SANS, "bold", align="right"),
             outside_text("Pressure (hPa)", -44, 195, 14, TITLE_FONT, "bold", 270)]
panel_b = alt.layer(*b_layers).properties(width=359, height=386)

# ------------------------------ panel c ------------------------------
XC = alt.Scale(domain=[-90, -10], range=[3, 365.3])
YC = alt.Scale(type="log", domain=[1, 1000], reverse=True)
make_axes(XC, YC, P_AC, LAT_LABELS, "abs(datum.value) + 'S'", left_offset=-3, xsize=13, xpad=8)
c_layers = []
for pts, col, dash in [
    (C_BLUE1, c[7], True), (C_BLUE2, c[7], True),
    (C_NEG05, c[7], True), (C_NEG10, c[6], True), (C_NEG15A, "#5A94D6", True), (C_NEG15B, "#5A94D6", True),
    (C_NEG20A, "#5580C6", True), (C_NEG20B, "#5580C6", True),
    (C_NEG30A, "#4D7ABF", True), (C_NEG30B, "#4D7ABF", True), (C_NEG30C, "#4A74BA", True), (C_NEG30D, "#4A74BA", True),
    (C_NEG40, "#4269B2", True), (C_NEG50, "#3B5CAA", True), (C_NEG60, "#3452A4", True),
    (C_POS05, c[9], False), (C_POS10, c[10], False), (C_POS15, c[11], False), (C_POS20, "#DF7430", False),
    (C_POSR05, c[9], False), (C_POSR10, c[10], False), (C_POSR15, c[11], False), (C_POSR20, "#DF7430", False),
    (C_POSL05, c[9], False), (C_POSL10, c[10], False), (C_POSL15, c[11], False),
]:
    c_layers.append(shape(pts, XC, YC, fill=col, dash=dash))
for pts in [C_B1, C_B2, C_B3, C_B4, C_B5]:
    c_layers.append(shape(pts, XC, YC, stroke=CYAN, width=SIG_W, closed=False))
for pts in [C_Y1, C_Y2, C_Y3, C_Y4, C_Y5, C_Y7, C_Y8, C_Y9, C_Y10, C_Y11, C_Y12]:
    c_layers.append(shape(pts, XC, YC, stroke=YEL, width=SIG_W, closed=False))
c_layers.append(shape(C_Y6, XC, YC, stroke=YEL, width=SIG_W))
c_layers += furniture(XC, YC, P_AC, None, None, grid_x=LAT_GRID, xdom=[-90, -10])
c_layers += labels_layer(C_LABELS, XC, YC)
c_layers += [outside_text("(c)", -38, -3, 29), outside_text("[UP] Change (m/s) Lag −20 to +5", 184, -8, 18, TITLE_FONT),
             outside_text("Latitude", 183, 412, 13, TITLE_FONT, "bold"),
             outside_text("Pressure (hPa)", -44, 197, 14, TITLE_FONT, "bold", 270)]
panel_c = alt.layer(*c_layers).properties(width=365.3, height=390)

# ------------------------------ caption, set word by word and justified ------------------------------
CX = alt.Scale(domain=[0, 399], range=[-27.7, 371.3])
CY = alt.Scale(domain=[0, 14], range=[31, 403.4])
FS = 21.8
RIGHT = 392.5


def word_w(w):
    return sum(TIMES_EM.get(ch, 500) for ch in w) * FS / 1000


def set_line(n, text, start, justify):
    words = text.split(" ")
    widths = [word_w(w) for w in words]
    gap = (RIGHT - start - sum(widths)) / max(len(words) - 1, 1) if justify else 0.25 * FS
    out, x = [], start
    for w, wd in zip(words, widths):
        out.append({"t": w, "n": n, "x": x})
        x += wd + gap
    return out


normal, italic = [], []
for n, line in enumerate(CAPTION):
    start = 96.7 if n == 0 else 0
    for row in set_line(n, line, start, n != len(CAPTION) - 1):
        (italic if (n == 3 and row["t"] == "t") else normal).append(row)


def cap_layer(rws, size=FS, style="normal"):
    return alt.Chart(pd.DataFrame(rws)).mark_text(font=SERIF, fontSize=size, fontStyle=style, align="left",
                                                  baseline="alphabetic", color="#222").encode(
        x=alt.X("x:Q", scale=CX, axis=None), y=alt.Y("n:Q", scale=CY, axis=None), text="t:N")


caption = alt.layer(
    cap_layer(normal),
    cap_layer([{"t": "F", "n": 0, "x": 22}]),
    cap_layer([{"t": "IG.", "n": 0, "x": 34}], 17),
    cap_layer([{"t": "3.", "n": 0, "x": 70.7}]),
    cap_layer(italic, style="italic"),
).properties(width=359, height=390)

bar_a = colorbar(LEVEL_COLORS, AC_TICKS, 358, 34, 13.7, 344.7)
bar_b = colorbar(B_COLORS, B_TICKS, 359, 34, 16.3, 342, tip=0.95)
bar_c = colorbar(LEVEL_COLORS, AC_TICKS, 365.3, 14, 16, 351, yoff=2)

chart = alt.concat(panel_a, panel_b, bar_a, bar_b, panel_c, caption, bar_c, columns=2,
                   spacing=alt.RowColnumber(row=30, column=70.4), bounds="flush", align="each").properties(
    padding={"left": 2, "top": 2, "right": 0, "bottom": 0}
).configure_view(strokeWidth=0)

chart.save("out.html", embed_options={"renderer": "svg", "actions": False})
